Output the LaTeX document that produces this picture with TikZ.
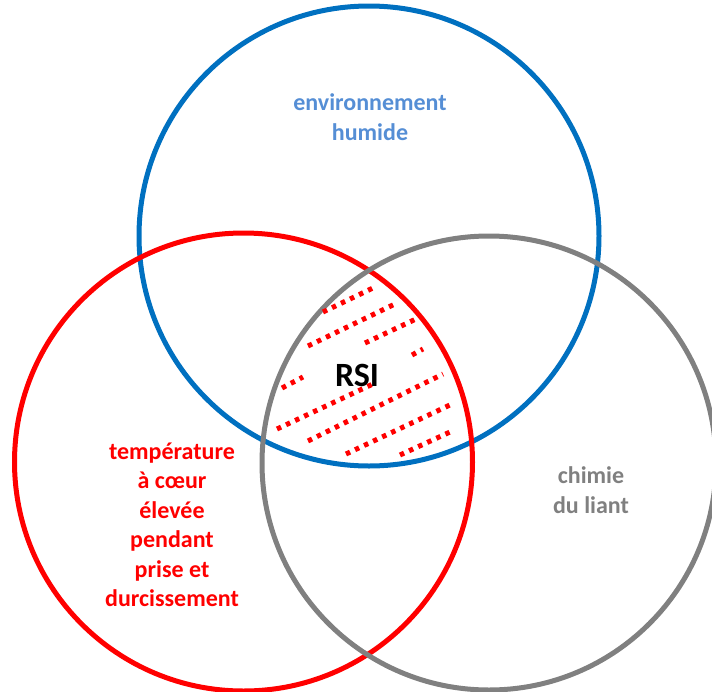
\documentclass[tikz,border=0pt]{standalone}
\usepackage{fontspec}
\setmainfont{Carlito}
\definecolor{cblue}{RGB}{0,112,192}
\definecolor{tblue}{RGB}{85,142,213}
\definecolor{cgray}{RGB}{128,128,128}
\definecolor{cred}{RGB}{255,0,0}
\begin{document}
\begin{tikzpicture}[x=1pt,y=-1pt,
  ring/.style={line width=5pt},
  hatch/.style={cred,line width=5pt,dash pattern=on 4.5pt off 5.5pt},
  lbl/.style={font=\bfseries\fontsize{24}{29.5}\selectfont,align=center}]
\useasboundingbox (0,0) rectangle (712,691);
\coordinate (cb) at (369,236);
\coordinate (cr) at (243.5,462);
\coordinate (cg) at (489,463);
\draw[ring,cblue] (cb) circle (230);
\draw[ring,cred] (cr) circle (229);
\draw[ring,cgray] (cg) circle (227);
% hatching
\foreach \a/\b/\c/\d [count=\i] in {323/312/375/287, 308/346/397/303, 365/343/416/319, 412/355/423/349, 282/388/303/377, 277/429/375/383, 308/441/443/374, 346/454/452/404, 400/455/450/432}{
  \coordinate (h\i a) at (\a,\b);
  \coordinate (h\i b) at (\c,\d);
  \draw[hatch] (h\i a) -- (h\i b);
}
\node[lbl,tblue] (env) at (370,117) {environnement\\humide};
\node[lbl,cred] (temp) at (172,525) {température\\à cœur\\élevée\\pendant\\prise et\\durcissement};
\node[lbl,cgray] (chim) at (591,490) {chimie\\du liant};
\node[font=\bfseries\fontsize{34}{36}\selectfont] (rsi) at (357,375) {RSI};
\end{tikzpicture}
\end{document}
